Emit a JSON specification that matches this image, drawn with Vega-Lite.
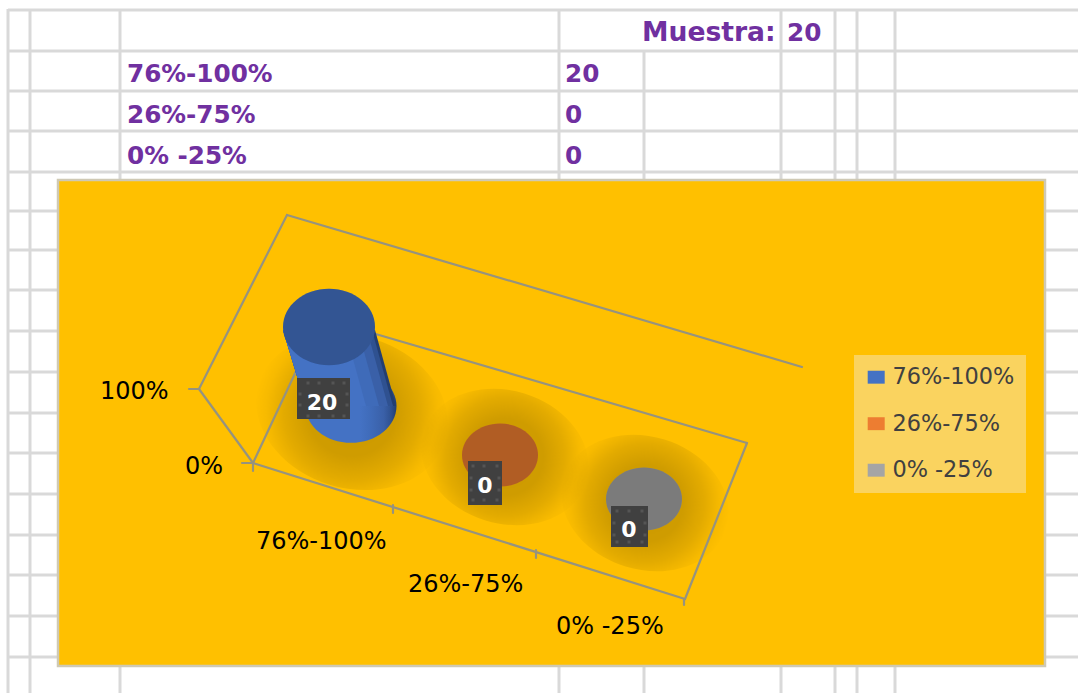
{
"$schema":"https://vega.github.io/schema/vega-lite/v6.json",
"width":1078,"height":693,"padding":0,"autosize":{"type":"none"},
"background":"#ffffff",
"config":{"view":{"stroke":null}},
"resolve":{"scale":{"size":"independent"}},
"datasets":{
"grid":[
{"x":8,"x2":1078,"y":10,"y2":10},{"x":8,"x2":1078,"y":51,"y2":51},{"x":8,"x2":1078,"y":91,"y2":91},{"x":8,"x2":1078,"y":131,"y2":131},{"x":8,"x2":1078,"y":172,"y2":172},{"x":8,"x2":1078,"y":211,"y2":211},{"x":8,"x2":1078,"y":250,"y2":250},{"x":8,"x2":1078,"y":290,"y2":290},{"x":8,"x2":1078,"y":331,"y2":331},{"x":8,"x2":1078,"y":372,"y2":372},{"x":8,"x2":1078,"y":413,"y2":413},{"x":8,"x2":1078,"y":453,"y2":453},{"x":8,"x2":1078,"y":494,"y2":494},{"x":8,"x2":1078,"y":535,"y2":535},{"x":8,"x2":1078,"y":575,"y2":575},{"x":8,"x2":1078,"y":616,"y2":616},{"x":8,"x2":1078,"y":657,"y2":657},
{"x":8,"x2":8,"y":9,"y2":693},{"x":30,"x2":30,"y":9,"y2":693},{"x":120,"x2":120,"y":9,"y2":693},{"x":559,"x2":559,"y":9,"y2":693},{"x":644,"x2":644,"y":51,"y2":693},{"x":781,"x2":781,"y":9,"y2":693},{"x":835,"x2":835,"y":9,"y2":693},{"x":857,"x2":857,"y":9,"y2":693},{"x":895,"x2":895,"y":9,"y2":693}],
"area":[{"x":58,"x2":1045,"y":180,"y2":666}],
"walls":[
{"x":287,"y":215,"x2":802,"y2":367},{"x":287,"y":215,"x2":199,"y2":389},{"x":199,"y":389,"x2":253,"y2":463},
{"x":321,"y":318,"x2":747,"y2":443},{"x":321,"y":318,"x2":253,"y2":463},{"x":253,"y":463,"x2":685,"y2":599},{"x":747,"y":443,"x2":685,"y2":599},
{"x":189,"y":389,"x2":199,"y2":389},{"x":242,"y":463,"x2":253,"y2":463},{"x":253,"y":463,"x2":253,"y2":471},{"x":393,"y":505,"x2":393,"y2":513},{"x":536,"y":550,"x2":536,"y2":558},{"x":684,"y":599,"x2":684,"y2":605}],
"shadow":[{"Valor":20,"x":352,"y":412},{"Valor":0,"x":505,"y":457},{"Valor":0,"x":645,"y":503}],
"plates":[
{"Rango":"76%-100%","Valor":20,"x":329,"y":327},
{"Rango":"26%-75%","Valor":0,"x":500,"y":455},
{"Rango":"0% -25%","Valor":0,"x":644,"y":499}],
"base":[{"x":351,"y":406}],
"body":[
{"banda":1,"y":330,"x":283,"x2":375},{"banda":1,"y":406,"x":306,"x2":396},
{"banda":2,"y":330,"x":283,"x2":372},{"banda":2,"y":406,"x":306,"x2":393},
{"banda":3,"y":330,"x":283,"x2":367},{"banda":3,"y":406,"x":306,"x2":388},
{"banda":4,"y":330,"x":283,"x2":358},{"banda":4,"y":406,"x":306,"x2":379},
{"banda":5,"y":330,"x":283,"x2":345},{"banda":5,"y":406,"x":306,"x2":366}],
"boxes":[
{"Valor":20,"x":297,"x2":350,"y":378,"y2":419,"tx":322,"ty":410},
{"Valor":0,"x":468,"x2":502,"y":461,"y2":505,"tx":485,"ty":493},
{"Valor":0,"x":611,"x2":648,"y":506,"y2":547,"tx":629,"ty":537}],
"dots":[
{"x":308,"y":383},{"x":319,"y":383},{"x":333,"y":383},{"x":344,"y":383},{"x":308,"y":416},{"x":319,"y":416},{"x":333,"y":416},{"x":344,"y":416},{"x":300,"y":394},{"x":300,"y":405},{"x":347,"y":394},{"x":347,"y":405},
{"x":473,"y":466},{"x":484,"y":466},{"x":497,"y":466},{"x":473,"y":500},{"x":484,"y":500},{"x":497,"y":500},{"x":471,"y":478},{"x":471,"y":490},{"x":499,"y":478},{"x":499,"y":490},
{"x":617,"y":511},{"x":629,"y":511},{"x":642,"y":511},{"x":617,"y":542},{"x":629,"y":542},{"x":642,"y":542},{"x":614,"y":523},{"x":614,"y":535},{"x":645,"y":523},{"x":645,"y":535}],
"table":[
{"t":"20","x":787,"y":41},
{"t":"76%-100%","x":127,"y":82},{"t":"20","x":565,"y":82},
{"t":"26%-75%","x":127,"y":123},{"t":"0","x":565,"y":123},
{"t":"0% -25%","x":127,"y":164},{"t":"0","x":565,"y":164}],
"muestra":[{"t":"Muestra:","x":642,"y":41}],
"axis":[
{"t":"100%","x":100,"y":399},{"t":"0%","x":185,"y":474},
{"t":"76%-100%","x":256,"y":549},{"t":"26%-75%","x":408,"y":592},{"t":"0% -25%","x":556,"y":634}]
},
"encoding":{
"x":{"field":"x","type":"quantitative","scale":{"domain":[0,1078],"nice":false,"zero":false},"axis":null},
"y":{"field":"y","type":"quantitative","scale":{"domain":[693,0],"nice":false,"zero":false},"axis":null}
},
"layer":[
{"data":{"name":"grid"},"mark":{"type":"rule","color":"#d9d9d9","strokeWidth":3},"encoding":{"x2":{"field":"x2"},"y2":{"field":"y2"}}},
{"data":{"name":"area"},"mark":{"type":"rect","fill":"#FFC000","stroke":"#cfc9b4","strokeWidth":2.5},"encoding":{"x2":{"field":"x2"},"y2":{"field":"y2"}}},
{"data":{"name":"shadow"},"mark":{"type":"point","filled":true,"opacity":1,"strokeWidth":0,"angle":17,"shape":"M -1 0 A 1 0.78 0 1 0 1 0 A 1 0.78 0 1 0 -1 0 Z",
"fill":{"gradient":"radial","x1":0.5,"y1":0.5,"r1":0,"x2":0.5,"y2":0.5,"r2":0.5,"stops":[{"offset":0,"color":"rgba(0,0,0,0.2)"},{"offset":0.45,"color":"rgba(0,0,0,0.19)"},{"offset":0.7,"color":"rgba(0,0,0,0.11)"},{"offset":0.88,"color":"rgba(0,0,0,0.03)"},{"offset":1,"color":"rgba(0,0,0,0)"}]}},
"encoding":{"size":{"field":"Valor","type":"quantitative","scale":{"domain":[0,20],"range":[29000,38000],"zero":false},"legend":null}}},
{"data":{"name":"walls"},"mark":{"type":"rule","color":"#96937f","strokeWidth":2.2,"strokeCap":"round"},"encoding":{"x2":{"field":"x2"},"y2":{"field":"y2"}}},
{"data":{"name":"base"},"mark":{"type":"point","filled":true,"opacity":1,"strokeWidth":0,"size":8281,"shape":"M -1 0 A 1 0.81 0 1 0 1 0 A 1 0.81 0 1 0 -1 0 Z",
"fill":{"gradient":"linear","x1":0,"y1":0,"x2":1,"y2":0,"stops":[{"offset":0,"color":"#4472C4"},{"offset":0.6,"color":"#4472C4"},{"offset":0.72,"color":"#3f6bb9"},{"offset":0.86,"color":"#3a60a8"},{"offset":0.94,"color":"#2f5190"},{"offset":1,"color":"#233e70"}]}}},
{"data":{"name":"body"},"mark":{"type":"area","orient":"horizontal"},
"encoding":{"x2":{"field":"x2"},"detail":{"field":"banda"},"fill":{"field":"banda","type":"ordinal","scale":{"domain":[1,2,3,4,5],"range":["#233e70","#2f5190","#3a60a8","#3f6bb9","#4472C4"]},"legend":null}}},
{"data":{"name":"plates"},"mark":{"type":"point","filled":true,"opacity":1,"strokeWidth":0,"shape":"M -1 0 A 1 0.83 0 1 0 1 0 A 1 0.83 0 1 0 -1 0 Z"},
"encoding":{
"color":{"field":"Rango","type":"nominal","sort":null,"scale":{"domain":["76%-100%","26%-75%","0% -25%"],"range":["#4472C4","#ED7D31","#A5A5A5"]},
"legend":{"title":null,"orient":"none","legendX":854,"legendY":355,"fillColor":"#FAD35F","padding":11,"symbolType":"M -1 -0.76 H 1 V 0.76 H -1 Z","symbolSize":289,"symbolStrokeWidth":0,"symbolOpacity":1,"labelFont":"DejaVu Sans","labelFontSize":22.4,"labelColor":"#404040","labelOffset":5,"rowPadding":23.5}},
"size":{"field":"Valor","type":"quantitative","scale":{"domain":[0,20],"range":[5776,8464],"zero":false},"legend":null}}},
{"data":{"name":"plates"},"mark":{"type":"point","filled":true,"opacity":0.25,"fill":"#000000","strokeWidth":0,"shape":"M -1 0 A 1 0.83 0 1 0 1 0 A 1 0.83 0 1 0 -1 0 Z"},
"encoding":{"size":{"field":"Valor","type":"quantitative","scale":{"domain":[0,20],"range":[5776,8464],"zero":false},"legend":null}}},
{"data":{"name":"boxes"},"mark":{"type":"rect","fill":"#000000","opacity":0.12,"xOffset":7,"yOffset":7},"encoding":{"x2":{"field":"x2"},"y2":{"field":"y2"}}},
{"data":{"name":"boxes"},"mark":{"type":"rect","fill":"#000000","opacity":0.2,"xOffset":3,"yOffset":3},"encoding":{"x2":{"field":"x2"},"y2":{"field":"y2"}}},
{"data":{"name":"boxes"},"mark":{"type":"rect","fill":"#404040"},"encoding":{"x2":{"field":"x2"},"y2":{"field":"y2"}}},
{"data":{"name":"dots"},"mark":{"type":"square","filled":true,"size":9,"opacity":1,"color":"#555555"}},
{"data":{"name":"boxes"},"mark":{"type":"text","font":"DejaVu Sans","fontWeight":"bold","fontSize":22,"color":"#ffffff","align":"center","baseline":"alphabetic"},
"encoding":{"x":{"field":"tx","type":"quantitative"},"y":{"field":"ty","type":"quantitative"},"text":{"field":"Valor"}}},
{"data":{"name":"table"},"mark":{"type":"text","font":"DejaVu Sans","fontWeight":"bold","fontSize":24.7,"color":"#7030A0","align":"left","baseline":"alphabetic"},"encoding":{"text":{"field":"t"}}},
{"data":{"name":"muestra"},"mark":{"type":"text","font":"DejaVu Sans","fontWeight":"bold","fontSize":26.6,"color":"#7030A0","align":"left","baseline":"alphabetic"},"encoding":{"text":{"field":"t"}}},
{"data":{"name":"axis"},"mark":{"type":"text","font":"DejaVu Sans","fontSize":24,"color":"#000000","align":"left","baseline":"alphabetic"},"encoding":{"text":{"field":"t"}}}
]
}
